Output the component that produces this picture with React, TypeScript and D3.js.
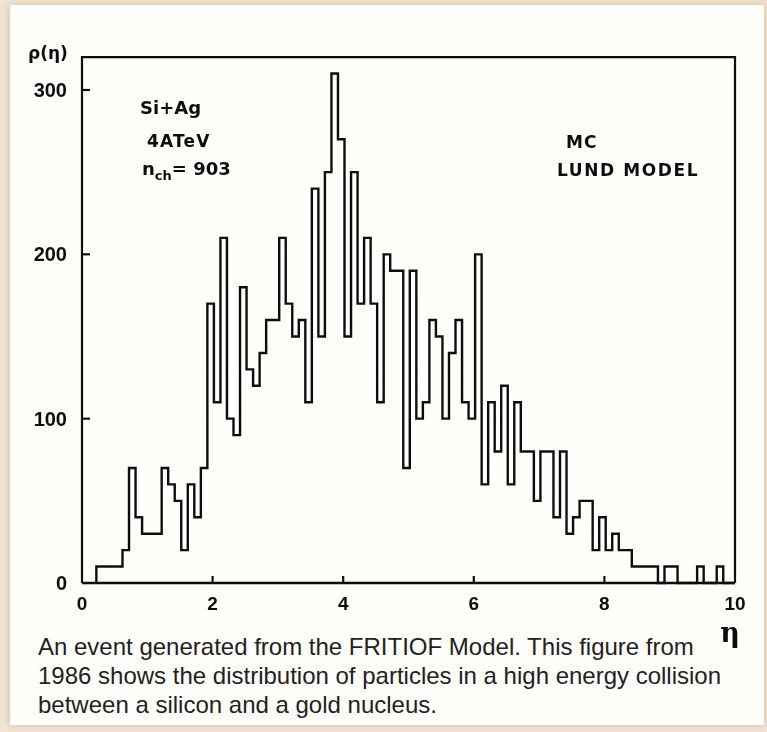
import React from 'react';
import * as d3 from 'd3';

// Histogram: bins of width 0.1 in eta, starting at 0.22
const binStart = 0.22;
const binWidth = 0.1;
const counts = [
  10, 10, 10, 10, 20, 70, 40, 30, 30, 30, // 0.2 - 1.1
  70, 60, 50, 20, 60, 40, 70, 170, 110, 210, // 1.2 - 2.1
  100, 90, 180, 130, 120, 140, 160, 160, 210, 170, // 2.2 - 3.1
  150, 160, 110, 240, 150, 250, 310, 270, 150, 250, // 3.2 - 4.1
  170, 210, 170, 110, 200, 190, 190, 70, 190, 100, // 4.2 - 5.1
  110, 160, 150, 100, 140, 160, 110, 100, 200, 60, // 5.2 - 6.1
  110, 80, 120, 60, 110, 80, 80, 50, 80, 80, // 6.2 - 7.1
  40, 80, 30, 40, 50, 50, 20, 40, 20, 30, // 7.2 - 8.1
  20, 20, 10, 10, 10, 10, 0, 10, 10, 0, // 8.2 - 9.1
  0, 0, 10, 0, 0, 10, 0, // 9.2 - 9.8
];
const xTicks = [0, 2, 4, 6, 8, 10];
const yTicks = [0, 100, 200, 300];
const yAxisTitle = 'ρ(η)';
const xAxisTitle = 'η';
const leftNotes = ['Si+Ag', '4ATeV'];
const nchLabel = { base: 'n', sub: 'ch', rest: '= 903' };
const rightNotes = ['MC', 'LUND MODEL'];
const captionLines = [
  'An event generated from the FRITIOF Model. This figure from',
  '1986 shows the distribution of particles in a high energy collision',
  'between a silicon and a gold nucleus.',
];

export default function App() {
  const W = 767;
  const H = 732;
  const x = d3.scaleLinear().domain([0, 10]).range([82, 735]);
  const y = d3.scaleLinear().domain([0, 300]).range([583, 90]);
  const yTop = 320;

  const pts: [number, number][] = [[binStart, 0]];
  counts.forEach((c, i) => pts.push([binStart + i * binWidth, c]));
  pts.push([binStart + counts.length * binWidth, 0]);
  pts.push([10, 0]);
  const line = d3
    .line<[number, number]>()
    .x((d) => x(d[0]))
    .y((d) => y(d[1]))
    .curve(d3.curveStepAfter);

  const scanFont = "'DejaVu Sans', 'Liberation Sans', sans-serif";
  const ink = '#111';

  return (
    <div style={{ position: 'absolute', left: 0, top: 0 }}>
      <svg width={W} height={H} viewBox={`0 0 ${W} ${H}`} style={{ display: 'block' }}>
        <defs>
          <filter id="shadow" x="-5%" y="-5%" width="110%" height="110%">
            <feGaussianBlur in="SourceAlpha" stdDeviation="4" />
            <feOffset dx="0" dy="0" result="b" />
            <feFlood floodColor="#b89a78" floodOpacity="0.55" />
            <feComposite in2="b" operator="in" />
            <feMerge>
              <feMergeNode />
              <feMergeNode in="SourceGraphic" />
            </feMerge>
          </filter>
          <filter id="ink" x="-2%" y="-2%" width="104%" height="104%">
            <feGaussianBlur stdDeviation="0.35" />
          </filter>
        </defs>
        <rect x={0} y={0} width={W} height={H} fill="#f1e4d3" />
        <rect x={10} y={5} width={754} height={720} fill="#fffefb" filter="url(#shadow)" />

        <g filter="url(#ink)">
          {/* frame */}
          <path
            d={`M${x(0)},${y(0)} L${x(0)},${y(yTop)} L${x(10)},${y(yTop)} L${x(10)},${y(0)}`}
            fill="none"
            stroke={ink}
            strokeWidth={2.2}
          />
          <line x1={x(0)} x2={x(10)} y1={y(0)} y2={y(0)} stroke={ink} strokeWidth={2.4} />
          {/* y ticks */}
          {yTicks.filter((t) => t > 0).map((t) => (
            <line key={t} x1={x(0)} x2={x(0) + 8} y1={y(t)} y2={y(t)} stroke={ink} strokeWidth={2.2} />
          ))}
          {yTicks.map((t) => (
            <text
              key={'yl' + t}
              x={67}
              y={y(t) + 7}
              textAnchor="end"
              fontFamily="'Liberation Sans', Arial, sans-serif"
              fontWeight="bold"
              fontSize={20}
              fill={ink}
            >
              {t}
            </text>
          ))}
          {/* x ticks */}
          {xTicks.filter((t) => t > 0 && t < 10).map((t) => (
            <line key={t} x1={x(t)} x2={x(t)} y1={y(0)} y2={y(0) - 7} stroke={ink} strokeWidth={2.2} />
          ))}
          {xTicks.map((t) => (
            <text
              key={'xl' + t}
              x={x(t)}
              y={610}
              textAnchor="middle"
              fontFamily="'Liberation Sans', Arial, sans-serif"
              fontWeight="bold"
              fontSize={19}
              fill={ink}
            >
              {t}
            </text>
          ))}
          {/* axis titles */}
          <text x={28} y={59} fontFamily={scanFont} fontWeight="bold" fontSize={17} fill={ink}>
            {yAxisTitle}
          </text>
          <text x={730} y={642} textAnchor="middle" fontFamily="'DejaVu Serif', serif" fontWeight="bold" fontSize={27} fill={ink}>
            {xAxisTitle}
          </text>

          {/* histogram */}
          <path d={line(pts) || ''} fill="none" stroke={ink} strokeWidth={2.4} strokeLinejoin="miter" />

          {/* annotations */}
          <text x={140} y={114} fontFamily={scanFont} fontWeight="bold" fontSize={18} fill={ink}>
            {leftNotes[0]}
          </text>
          <text x={147} y={147} fontFamily={scanFont} fontWeight="bold" fontSize={17} letterSpacing={1.2} fill={ink}>
            {leftNotes[1]}
          </text>
          <text x={142} y={175} fontFamily={scanFont} fontWeight="bold" fontSize={18} fill={ink}>
            {nchLabel.base}
            <tspan fontSize={13} dy={5}>{nchLabel.sub}</tspan>
            <tspan dy={-5}>{nchLabel.rest}</tspan>
          </text>
          <text x={566} y={148} fontFamily={scanFont} fontWeight="bold" fontSize={17} letterSpacing={1} fill={ink}>
            {rightNotes[0]}
          </text>
          <text x={557} y={176} fontFamily={scanFont} fontWeight="bold" fontSize={17} letterSpacing={1.6} fill={ink}>
            {rightNotes[1]}
          </text>
        </g>

        {/* caption */}
        {captionLines.map((l, i) => (
          <text
            key={i}
            x={38}
            y={655 + i * 29}
            fontFamily="'Liberation Sans', Arial, sans-serif"
            fontSize={24}
            fill="#222"
          >
            {l}
          </text>
        ))}
      </svg>
    </div>
  );
}
